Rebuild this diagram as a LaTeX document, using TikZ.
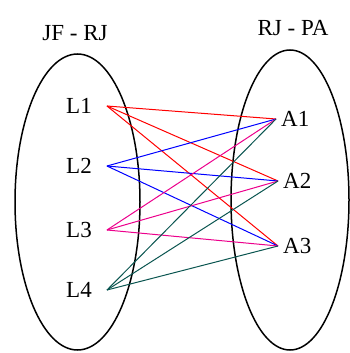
\documentclass[tikz,border=0pt]{standalone}
\usepackage{fontspec}
\setmainfont{Liberation Serif}
\usepackage{xcolor}
\definecolor{darkteal}{RGB}{10,85,80}

\begin{document}
\begin{tikzpicture}[x=1pt,y=-1pt,
    elem/.style={font=\fontsize{23}{25}\selectfont, inner sep=0pt},
    from/.style={elem, inner xsep=15pt},
    to/.style={elem, anchor=west, inner xsep=5pt},
    link/.style={line width=1pt}]
  \useasboundingbox (0,0) rectangle (350,353);

  % Sets
  \draw[line width=1.5pt] (77.5,202) ellipse [x radius=62.5, y radius=148];
  \draw[line width=1.5pt] (290,200) ellipse [x radius=59, y radius=150];

  % Titles
  \node[elem] (jf) at (75,33) {JF - RJ};
  \node[elem] (pa) at (293,28) {RJ - PA};

  % Elements
  \node[from] (L1) at (79,106) {L1};
  \node[from] (L2) at (79,166) {L2};
  \node[from] (L3) at (79,230) {L3};
  \node[from] (L4) at (79,290) {L4};
  \node[to] (A1) at (276,119) {A1};
  \node[to] (A2) at (278,181) {A2};
  \node[to] (A3) at (278,246) {A3};

  % Links
  \foreach \l/\c in {L1/red,L2/blue,L3/magenta,L4/darkteal}
    \foreach \a in {A1,A2,A3}
      \draw[link,\c] (\l.east) -- (\a.west);
\end{tikzpicture}
\end{document}
